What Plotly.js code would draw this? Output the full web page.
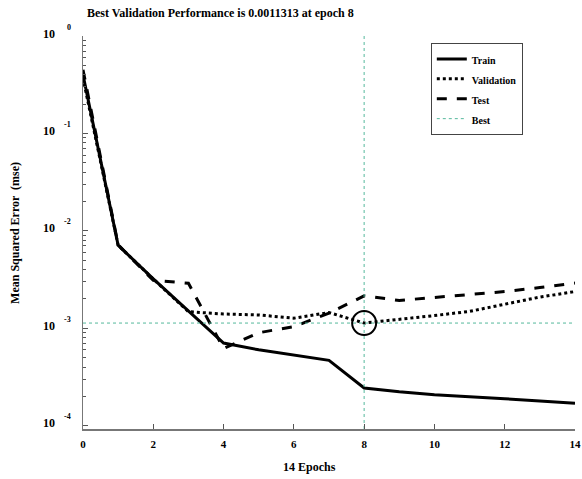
<!DOCTYPE html>
<html>
<head>
<meta charset="utf-8">
<script src="https://cdn.plot.ly/plotly-3.0.1.min.js"></script>
<style>
  html, body { margin: 0; padding: 0; background: #fff; }
  #chart { width: 582px; height: 479px; }
</style>
</head>
<body>
<div id="chart"></div>
<script>
// Training record: mean squared error per epoch
const epochs = [0, 1, 2, 3, 4, 5, 6, 7, 8, 9, 10, 11, 12, 13, 14];
const trainMse = [0.40, 0.0071, 0.00322, 0.00149, 0.000705, 0.000601, 0.000534, 0.000468,
                  0.000244, 0.000223, 0.000208, 0.000200, 0.000189, 0.000179, 0.000170];
const validationMse = [0.37, 0.0071, 0.0032, 0.00148, 0.00140, 0.00137, 0.00127, 0.00145,
                       0.0011313, 0.00123, 0.00135, 0.00149, 0.00177, 0.00209, 0.00238];
const testMse = [0.45, 0.0072, 0.0031, 0.0029, 0.00062, 0.0009, 0.00104, 0.00143,
                 0.00215, 0.00193, 0.00207, 0.00222, 0.00238, 0.00262, 0.00291];

const bestEpoch = 8;
const bestPerf = 0.0011313;

// Axis limits (log10 for the y axis)
const xLimits = [0, 14];
const yLogLimits = [-4.034, 0];

// Decade ticks: base label and exponent
const yTickExps = [-4, -3, -2, -1, 0];
const xTickVals = [0, 2, 4, 6, 8, 10, 12, 14];

// minor ticks at 2..9 x 10^k
const minorVals = [];
for (let k = -4; k < 0; k++) {
  for (let m = 2; m <= 9; m++) minorVals.push(m * Math.pow(10, k));
}

const serif = 'Liberation Serif, Times New Roman, serif';
const bestColor = '#55b89c';
const legendLabel = s => '<span style="font-size:10px"><b>' + s + '</b></span>';

// plot-area geometry
const plotLeft = 82.7, plotWidth = 492.7, plotHeight = 393.3;
const toPaperX = px => (px - plotLeft) / plotWidth;

const traces = [
  { x: epochs, y: trainMse, name: legendLabel('Train'), mode: 'lines',
    line: { color: '#000', width: 3 } },
  { x: epochs, y: validationMse, name: legendLabel('Validation'), mode: 'lines',
    line: { color: '#000', width: 3, dash: 'dot' } },
  { x: epochs, y: testMse, name: legendLabel('Test'), mode: 'lines',
    line: { color: '#000', width: 3, dash: '10px,10px' } },
  { x: [xLimits[0], xLimits[1], null, bestEpoch, bestEpoch],
    y: [bestPerf, bestPerf, null, Math.pow(10, yLogLimits[0]), Math.pow(10, yLogLimits[1])],
    name: legendLabel('Best'), mode: 'lines',
    line: { color: bestColor, width: 1, dash: 'dot' } },
  { x: [bestEpoch], y: [bestPerf], mode: 'markers', showlegend: false,
    marker: { symbol: 'circle-open', size: 24, color: '#000', line: { width: 2, color: '#000' } } }
];

// "10" with a raised exponent beside each decade tick
const decadeLabels = [];
yTickExps.forEach(e => {
  decadeLabels.push({
    text: '10', xref: 'paper', yref: 'y', x: toPaperX(42), y: e,
    xanchor: 'left', yanchor: 'middle', yshift: 2.5, showarrow: false,
    borderpad: 0, font: { size: 12, family: serif, color: '#000', weight: 'bold' }
  });
  decadeLabels.push({
    text: String(e), xref: 'paper', yref: 'y', x: toPaperX(71.5), y: e,
    xanchor: 'right', yanchor: 'middle', yshift: 9, showarrow: false,
    borderpad: 0, font: { size: 8, family: serif, color: '#000', weight: 'bold' }
  });
});

const layout = {
  width: 582, height: 479,
  margin: { l: plotLeft, r: 6.6, t: 36, b: 49.7 },
  paper_bgcolor: '#fff', plot_bgcolor: '#fff',
  font: { family: serif, color: '#000' },
  title: {
    text: '<b>Best Validation Performance is ' + bestPerf + ' at epoch ' + bestEpoch + '</b>',
    font: { size: 12, family: serif, color: '#000' },
    xref: 'container', x: 87 / 582, xanchor: 'left',
    yref: 'container', y: 1 - 13 / 479, yanchor: 'middle'
  },
  xaxis: {
    range: xLimits, showgrid: false, zeroline: false,
    showline: true, linecolor: '#777', linewidth: 1.5,
    ticks: 'inside', ticklen: 5, tickwidth: 1, tickcolor: '#555',
    tickvals: xTickVals, ticktext: xTickVals.map(v => '<b>' + v + '</b>'),
    tickfont: { size: 11, family: serif, color: '#000' },
    ticklabelstandoff: 4
  },
  yaxis: {
    type: 'log', range: yLogLimits, showgrid: false, zeroline: false,
    showline: true, linecolor: '#777', linewidth: 1.5,
    ticks: 'inside', ticklen: 5, tickwidth: 1, tickcolor: '#555',
    tickvals: yTickExps.map(e => Math.pow(10, e)), showticklabels: false,
    minor: { tickvals: minorVals, ticks: 'inside', ticklen: 3, tickwidth: 1, tickcolor: '#555', showgrid: false }
  },
  legend: {
    x: toPaperX(431), xanchor: 'left',
    y: (429.3 - 43) / plotHeight, yanchor: 'top',
    bgcolor: '#fff', bordercolor: '#444', borderwidth: 1,
    font: { size: 13, family: serif, color: '#000' },
    entrywidth: 92
  },
  annotations: decadeLabels.concat([
    { text: '<b>14 Epochs</b>', xref: 'paper', yref: 'paper',
      x: toPaperX(310), y: -(467 - 429.3) / plotHeight,
      xanchor: 'center', yanchor: 'middle', showarrow: false,
      font: { size: 12, family: serif, color: '#000' } },
    { text: '<b>Mean Squared Error  (mse)</b>', xref: 'paper', yref: 'paper',
      x: toPaperX(14), y: 0.5, textangle: -90,
      xanchor: 'center', yanchor: 'middle', showarrow: false,
      font: { size: 12, family: serif, color: '#000' } }
  ]),
  showlegend: true
};

Plotly.newPlot('chart', traces, layout, { displayModeBar: false, staticPlot: true });
</script>
</body>
</html>
